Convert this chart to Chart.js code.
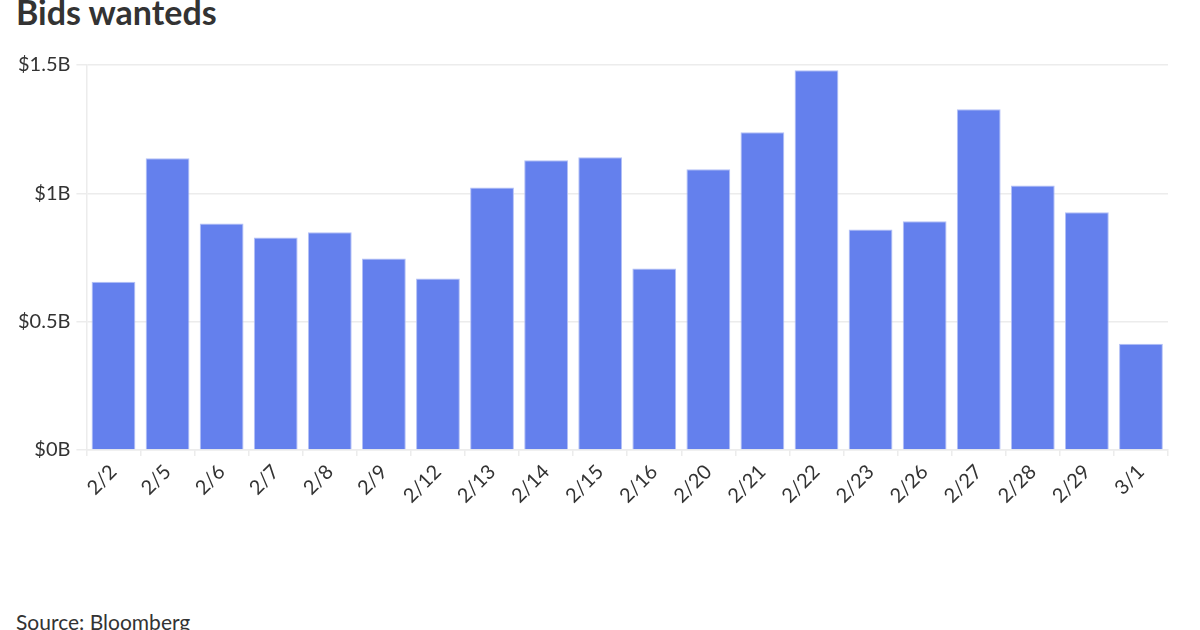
<!DOCTYPE html>
<html>
<head>
<meta charset="utf-8">
<script src="https://cdn.jsdelivr.net/npm/chart.js@4"></script>
<style>
  html, body { margin: 0; padding: 0; background: #fff; }
  body { width: 1200px; height: 630px; overflow: hidden; position: relative; font-family: Lato, sans-serif; }
  #title { position: absolute; left: 16px; top: -9px; font-size: 34px; font-weight: 700; color: #333; }
  #source { position: absolute; left: 16px; top: 609px; font-size: 21px; color: #333; }
  #wrap { position: absolute; left: 0; top: 40px; width: 1200px; height: 472px; }
</style>
</head>
<body>
<div id="title">Bids wanteds</div>
<div id="wrap"><canvas id="bidschart"></canvas></div>
<div id="source">Source: Bloomberg</div>
<script>
// trading days, values in $ billions
const days = ['2/2', '2/5', '2/6', '2/7', '2/8', '2/9', '2/12', '2/13', '2/14', '2/15',
              '2/16', '2/20', '2/21', '2/22', '2/23', '2/26', '2/27', '2/28', '2/29', '3/1'];
const bids = [0.656, 1.137, 0.883, 0.828, 0.848, 0.746, 0.668, 1.023, 1.129, 1.141,
              0.707, 1.094, 1.238, 1.48, 0.859, 0.891, 1.328, 1.031, 0.926, 0.414];
const yTicks = [0, 0.5, 1, 1.5];

const chart = document.getElementById("bidschart");
const gridColor = '#ececec';

new Chart(chart, {
    type: 'bar',
    data: {
        labels: days,
        datasets: [{
            label: 'Bids wanted',
            data: bids,
            backgroundColor: '#6480ED',
            borderColor: '#B3C0F6',
            borderWidth: 1,
            barPercentage: 0.9,
            categoryPercentage: 0.9
        }]
    },
    options: {
        responsive: true,
        maintainAspectRatio: false,
        animation: false,
        layout: { padding: { left: 12, right: 32, top: 25, bottom: 0 } },
        plugins: {
            legend: { display: false },
            tooltip: { enabled: false }
        },
        scales: {
            x: {
                grid: { drawOnChartArea: false, drawTicks: true, tickLength: 6, color: gridColor, lineWidth: 1.5 },
                border: { color: gridColor, width: 1.5 },
                ticks: {
                    minRotation: 45, maxRotation: 45,
                    color: '#333',
                    font: { family: 'Lato', size: 20 },
                    padding: 4
                }
            },
            y: {
                min: 0, max: 1.5,
                afterBuildTicks: axis => { axis.ticks = yTicks.map(v => ({ value: v })); },
                grid: { color: gridColor, lineWidth: 1.5, tickLength: 10 },
                border: { color: gridColor, width: 1.5 },
                ticks: {
                    color: '#333',
                    font: { family: 'Lato', size: 20 },
                    padding: 6,
                    callback: v => '$' + v + 'B'
                }
            }
        }
    }
});
</script>
</body>
</html>
